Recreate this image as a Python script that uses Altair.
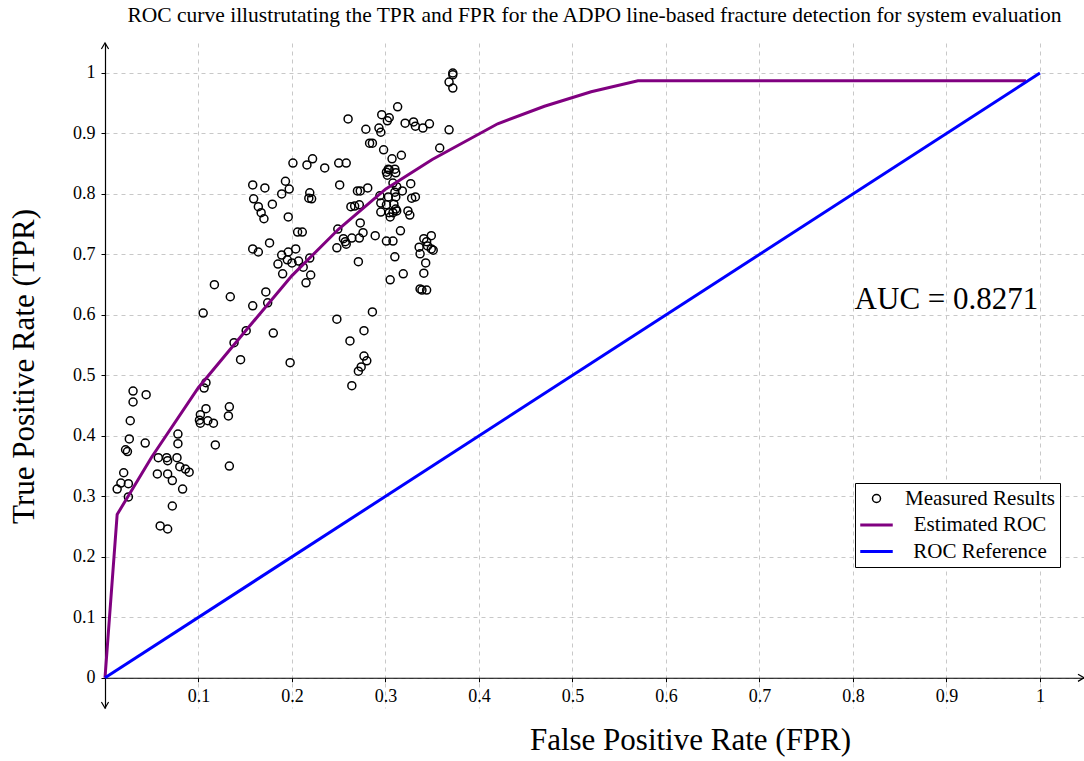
import altair as alt
import pandas as pd

# Measured operating points of the detector (FPR, TPR)
measured_fpr = [
    0.108, 0.106, 0.030, 0.044, 0.030, 0.108, 0.102, 0.101, 0.102, 0.110, 0.116, 0.133, 0.132, 0.027,
    0.078, 0.078, 0.026, 0.043, 0.022, 0.024, 0.118, 0.057, 0.066, 0.067, 0.077, 0.080, 0.086, 0.090,
    0.056, 0.067, 0.072, 0.083, 0.133, 0.020, 0.017, 0.025, 0.013, 0.025, 0.072, 0.059, 0.067,
    0.117, 0.134, 0.105, 0.158, 0.172, 0.174, 0.151, 0.138, 0.180, 0.145, 0.198,
    0.158, 0.171, 0.193, 0.197, 0.189, 0.219, 0.218, 0.221, 0.159, 0.179, 0.164, 0.167, 0.170, 0.196,
    0.201, 0.216, 0.222, 0.235, 0.250, 0.258, 0.260,
    0.206, 0.211, 0.176, 0.158, 0.164, 0.189, 0.196, 0.204, 0.195, 0.200, 0.207, 0.219, 0.212, 0.185,
    0.190, 0.220, 0.215,
    0.251, 0.270, 0.273, 0.281, 0.263, 0.267, 0.272, 0.273, 0.249, 0.276, 0.289, 0.255, 0.257, 0.258,
    0.264, 0.272, 0.248, 0.271,
    0.286, 0.248, 0.277, 0.262, 0.277, 0.280, 0.274, 0.271, 0.264,
    0.313, 0.296, 0.304, 0.302, 0.321, 0.330, 0.332, 0.340, 0.347, 0.279, 0.293, 0.295, 0.368, 0.283,
    0.286, 0.298, 0.358, 0.307, 0.317, 0.303, 0.301, 0.304, 0.310, 0.311, 0.302, 0.308, 0.312, 0.327,
    0.318, 0.310, 0.294, 0.303, 0.311, 0.328, 0.332, 0.295, 0.301, 0.309, 0.311, 0.295, 0.304, 0.308,
    0.305, 0.312, 0.324, 0.326, 0.316, 0.301, 0.308, 0.310, 0.319, 0.305,
    0.341, 0.349, 0.336, 0.344, 0.345, 0.349, 0.351, 0.337, 0.343, 0.341, 0.337, 0.339, 0.344,
    0.372, 0.372, 0.368, 0.372,
]
measured_tpr = [
    0.488, 0.479, 0.474, 0.468, 0.456, 0.445, 0.435, 0.426, 0.421, 0.425, 0.421, 0.448, 0.433, 0.425,
    0.403, 0.387, 0.395, 0.388, 0.377, 0.374, 0.385, 0.364, 0.364, 0.359, 0.364, 0.349, 0.345, 0.340,
    0.337, 0.337, 0.326, 0.312, 0.350, 0.339, 0.322, 0.321, 0.312, 0.299, 0.284, 0.251, 0.246,
    0.650, 0.630, 0.603, 0.615, 0.638, 0.620, 0.574, 0.554, 0.570, 0.526, 0.521,
    0.815, 0.810, 0.821, 0.808, 0.800, 0.802, 0.793, 0.792, 0.792, 0.783, 0.779, 0.769, 0.759, 0.762,
    0.851, 0.848, 0.858, 0.843, 0.851, 0.851, 0.924,
    0.737, 0.737, 0.719, 0.709, 0.704, 0.699, 0.704, 0.709, 0.691, 0.686, 0.689, 0.694, 0.679, 0.684,
    0.668, 0.666, 0.653,
    0.815, 0.805, 0.805, 0.810, 0.779, 0.780, 0.782, 0.752, 0.742, 0.736, 0.731, 0.726, 0.721, 0.717,
    0.727, 0.727, 0.711, 0.688,
    0.605, 0.593, 0.574, 0.557, 0.532, 0.524, 0.514, 0.507, 0.483,
    0.944, 0.931, 0.926, 0.921, 0.917, 0.919, 0.912, 0.909, 0.916, 0.907, 0.909, 0.902, 0.906, 0.884,
    0.884, 0.873, 0.876, 0.858, 0.864, 0.841, 0.836, 0.840, 0.841, 0.835, 0.831, 0.818, 0.812, 0.817,
    0.805, 0.803, 0.797, 0.795, 0.795, 0.793, 0.795, 0.785, 0.782, 0.783, 0.775, 0.770, 0.769, 0.769,
    0.762, 0.772, 0.772, 0.765, 0.739, 0.722, 0.722, 0.696, 0.668, 0.658,
    0.726, 0.731, 0.712, 0.721, 0.714, 0.709, 0.707, 0.701, 0.686, 0.669, 0.643, 0.641, 0.641,
    1.000, 0.997, 0.985, 0.975,
]

# Estimated ROC curve vertices
roc_fpr = [0.0, 0.013, 0.05, 0.10, 0.15, 0.20, 0.25, 0.30, 0.35, 0.42, 0.47, 0.52, 0.57, 0.985]
roc_tpr = [0.0, 0.27, 0.365, 0.48, 0.573, 0.665, 0.742, 0.808, 0.857, 0.916, 0.945, 0.969, 0.987, 0.987]

# Chance-level reference diagonal
ref_fpr = [0.0, 1.0]
ref_tpr = [0.0, 1.0]

series_names = ["Measured Results", "Estimated ROC", "ROC Reference"]
series_colors = ["black", "#800080", "#0000ff"]

auc_value = 0.8271
auc_fpr = [0.9]
auc_tpr = [0.625]

x_ticks = [0.1, 0.2, 0.3, 0.4, 0.5, 0.6, 0.7, 0.8, 0.9, 1.0]
y_ticks = [0.0, 0.1, 0.2, 0.3, 0.4, 0.5, 0.6, 0.7, 0.8, 0.9, 1.0]

x_domain = [0.0, 1.0471]
y_domain = [-0.05, 1.0496]

FONT = "Liberation Serif"

# symbol paths: small ring for the measurements, a dash for the curves, chevrons for axis arrows
ring = "M -0.32 0 A 0.32 0.32 0 1 1 0.32 0 A 0.32 0.32 0 1 1 -0.32 0 Z"
dash = "M -1.3 0 L 1.3 0"
chevron = "M -1 -0.6 L 0 0 L -1 0.6"

measured = pd.DataFrame({"fpr": measured_fpr, "tpr": measured_tpr, "series": series_names[0]})
roc = pd.DataFrame({"fpr": roc_fpr, "tpr": roc_tpr, "series": series_names[1]})
ref = pd.DataFrame({"fpr": ref_fpr, "tpr": ref_tpr, "series": series_names[2]})
auc = pd.DataFrame({"fpr": auc_fpr, "tpr": auc_tpr, "label": [f"AUC = {auc_value}"]})
arrows = pd.DataFrame({
    "fpr": [x_domain[1], 0.0, 0.0],
    "tpr": [0.0, y_domain[1], y_domain[0]],
    "ang": [0, 270, 90],
})

xs = alt.Scale(domain=x_domain, nice=False, zero=False)
ys = alt.Scale(domain=y_domain, nice=False, zero=False)

axis_style = dict(
    domainColor="black", domainWidth=1.2,
    tickColor="black", tickSize=4, tickWidth=1,
    grid=True, gridColor="#c8c8c8", gridDash=[4, 4], gridWidth=1,
    labelFont=FONT, labelFontSize=18, labelColor="black",
    titleFont=FONT, titleFontSize=31, titleFontWeight="normal", titleColor="black",
)

x_axis = alt.Axis(
    values=x_ticks, format="~g", offset=-30.24,
    title="False Positive Rate (FPR)", titleX=585, titleY=72,
    titleAlign="center", titleBaseline="alphabetic",
    labelPadding=6, **axis_style,
)
y_axis = alt.Axis(
    values=y_ticks, format="~g",
    title="True Positive Rate (TPR)", titleAngle=270, titleX=-72, titleY=323,
    titleAlign="center", titleBaseline="alphabetic",
    labelPadding=6, **axis_style,
)

x_enc = alt.X("fpr:Q", scale=xs, axis=x_axis)
y_enc = alt.Y("tpr:Q", scale=ys, axis=y_axis)

color_enc = alt.Color(
    "series:N",
    scale=alt.Scale(domain=series_names, range=series_colors),
    title=None,
    legend=alt.Legend(
        orient="none", legendX=750, legendY=440,
        fillColor="white", strokeColor="black",
        padding=5, rowPadding=4.5, symbolSize=625, symbolOffset=6,
        symbolStrokeWidth={"expr": "datum.value == 'Measured Results' ? 1.5 : 3"},
        labelFont=FONT, labelFontSize=21, labelColor="black",
        labelAlign="center", labelOffset=93,
    ),
)
shape_enc = alt.Shape(
    "series:N",
    scale=alt.Scale(domain=series_names, range=[ring, dash, dash]),
    title=None,
)

points = alt.Chart(measured).mark_point(filled=False, size=625, strokeWidth=1.5, opacity=1).encode(
    x=x_enc, y=y_enc, color=color_enc, shape=shape_enc
)
roc_line = alt.Chart(roc).mark_line(strokeWidth=3).encode(
    x=x_enc, y=y_enc, color=color_enc, order="fpr:Q"
)
ref_line = alt.Chart(ref).mark_line(strokeWidth=3).encode(
    x=x_enc, y=y_enc, color=color_enc
)
auc_text = alt.Chart(auc).mark_text(
    font=FONT, fontSize=31, align="center", baseline="middle", color="black"
).encode(x=x_enc, y=y_enc, text="label:N")
arrow_heads = alt.Chart(arrows).mark_point(
    shape=chevron, size=144, filled=False, strokeWidth=1.2, color="black", opacity=1
).encode(x=x_enc, y=y_enc, angle=alt.Angle("ang:Q", scale=None))

chart = alt.layer(points, roc_line, ref_line, auc_text, arrow_heads).properties(
    width=979,
    height=665,
    autosize=alt.AutoSizeParams(type="none"),
    padding={"left": 105, "top": 43, "right": 0, "bottom": 53},
    background="white",
    title=alt.TitleParams(
        text="ROC curve illustrutating the TPR and FPR for the ADPO line-based fracture detection for system evaluation",
        font=FONT, fontSize=21.5, fontWeight="normal", color="black",
        anchor="middle", offset=14,
    ),
).configure_view(
    stroke=None
).configure_legend(
    strokeWidth=1, cornerRadius=0
)

chart.save("out.html", embed_options={"renderer": "svg", "actions": False})
